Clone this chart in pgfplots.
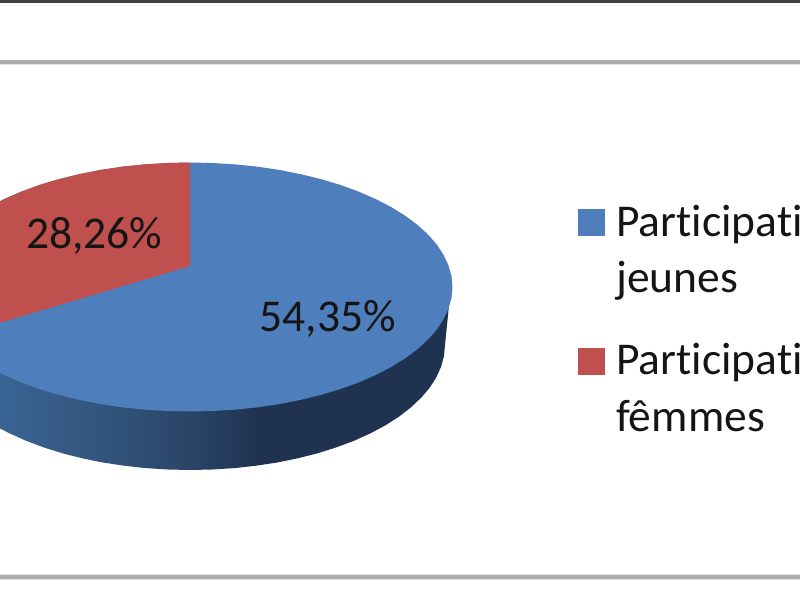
\documentclass[border=0pt]{standalone}
\usepackage{pgfplots}
\pgfplotsset{compat=1.18}
\usepackage{fontspec}
\setmainfont{Carlito}[Ligatures=NoCommon]
\definecolor{pieblue}{HTML}{4E7FBC}
\definecolor{piered}{HTML}{BF504D}
\definecolor{sideA}{HTML}{3A6494}
\definecolor{sideB}{HTML}{33577F}
\definecolor{sideC}{HTML}{2A4566}
\definecolor{sideD}{HTML}{1F3350}
\definecolor{txt}{HTML}{151515}
\pgfdeclarehorizontalshading{pieside}{100bp}{color(0bp)=(sideA); color(25bp)=(sideA); color(35bp)=(sideB); color(46bp)=(sideC); color(54bp)=(sideD); color(100bp)=(sideD)}
\newcommand{\lab}{\fontsize{45.5}{50}\selectfont}
\begin{document}
\begin{tikzpicture}
\path[use as bounding box, clip] (0,0) rectangle (800pt,600pt);
\begin{axis}[
  at={(0,0)}, anchor=south west,
  scale only axis, width=800pt, height=600pt,
  xmin=0, xmax=800, ymin=0, ymax=600, y dir=reverse,
  hide axis, clip=true
]
% frame lines
\addplot[draw=none, fill=black!74] coordinates {(0,0)(800,0)(800,3)(0,3)} -- cycle;
\addplot[draw=black!12, line width=5.5pt] coordinates {(0,62.5)(800,62.5)};
\addplot[draw=black!32, line width=3.2pt] coordinates {(0,62)(800,62)};
\addplot[draw=black!12, line width=6.5pt] coordinates {(0,577)(800,577)};
\addplot[draw=black!32, line width=3.5pt] coordinates {(0,577)(800,577)};
% pie side
\addplot[draw=none, shade, shading=pieside] coordinates {
(449,305)(445,345)(444,355.9)(441.1,366.7)(436.3,377.4)(429.6,387.8)(421.1,397.8)(410.8,407.5)(398.9,416.7)(385.3,425.4)(370.3,433.4)(353.9,440.8)(336.3,447.4)(317.5,453.3)(297.8,458.3)(277.2,462.5)(256,465.7)(234.3,468.1)(212.2,469.5)(190,470)
(167.8,469.5)(145.7,468.1)(124,465.7)(102.8,462.5)(82.2,458.3)(62.5,453.3)(43.7,447.4)(26.1,440.8)(9.7,433.4)(0,428.4)(0,300)
} -- cycle;
% pie top, blue slice
\addplot[draw=none, fill=pieblue] coordinates {
(190,162.5)(212.9,163)(235.6,164.4)(257.9,166.7)(279.8,170)(300.9,174.2)(321.3,179.2)(340.6,185)(358.7,191.6)(375.6,199)(391.1,207)(405,215.6)(417.3,224.7)(427.9,234.4)(436.7,244.4)(443.5,254.8)(448.5,265.4)(451.5,276.1)(452.5,287)
(451.5,297.9)(448.5,308.6)(443.5,319.2)(436.7,329.6)(427.9,339.6)(417.3,349.3)(405,358.4)(391.1,367)(375.6,375)(358.7,382.4)(340.6,389)(321.3,394.8)(300.9,399.8)(279.8,404)(257.9,407.3)(235.6,409.6)(212.9,411)(190,411.5)
(167.1,411)(144.4,409.6)(122.1,407.3)(100.2,404)(79.1,399.8)(58.7,394.8)(39.4,389)(21.3,382.4)(4.4,375)(-11.1,367)(-25,358.4)(-37.3,349.3)(-47.9,339.6)(-56.7,329.6)(-63.5,319.2)(-68.5,308.6)(-71.5,297.9)(-72.5,287)
(-71.5,276.1)(-68.5,265.4)(-63.5,254.8)(-56.7,244.4)(-47.9,234.4)(-37.3,224.7)(-25,215.6)(-11.1,207)(4.4,199)(21.3,191.6)(39.4,185)(58.7,179.2)(79.1,174.2)(100.2,170)(122.1,166.7)(144.4,164.4)(167.1,163)
} -- cycle;
% red slice
\addplot[draw=none, fill=piered] coordinates {
(190,266)(190,162.5)(167.1,163)(144.4,164.4)(122.1,166.7)(100.2,170)(79.1,174.2)(58.7,179.2)(39.4,185)(21.3,191.6)(4.4,199)(-11.1,207)(-30,331.7)
} -- cycle;
% legend keys
\addplot[only marks, mark=square*, mark size=13pt, mark options={solid, draw=pieblue, fill=pieblue, line width=0pt}] coordinates {(591,222.5)};
\addplot[only marks, mark=square*, mark size=13pt, mark options={solid, draw=piered, fill=piered, line width=0pt}] coordinates {(591,361)};
% texts
\node[anchor=base west, inner sep=0pt, text=txt, font=\lab] at (axis cs:26,248) {28,26\%};
\node[anchor=base west, inner sep=0pt, text=txt, font=\lab] at (axis cs:259.5,331) {54,35\%};
\node[anchor=base west, inner sep=0pt, text=txt, font=\lab] at (axis cs:616,236) {Participati};
\node[anchor=base west, inner sep=0pt, text=txt, font=\lab] at (axis cs:616,292) {jeunes};
\node[anchor=base west, inner sep=0pt, text=txt, font=\lab] at (axis cs:616,374) {Participati};
\node[anchor=base west, inner sep=0pt, text=txt, font=\lab] at (axis cs:616,431) {fêmmes};
\end{axis}
\end{tikzpicture}
\end{document}
